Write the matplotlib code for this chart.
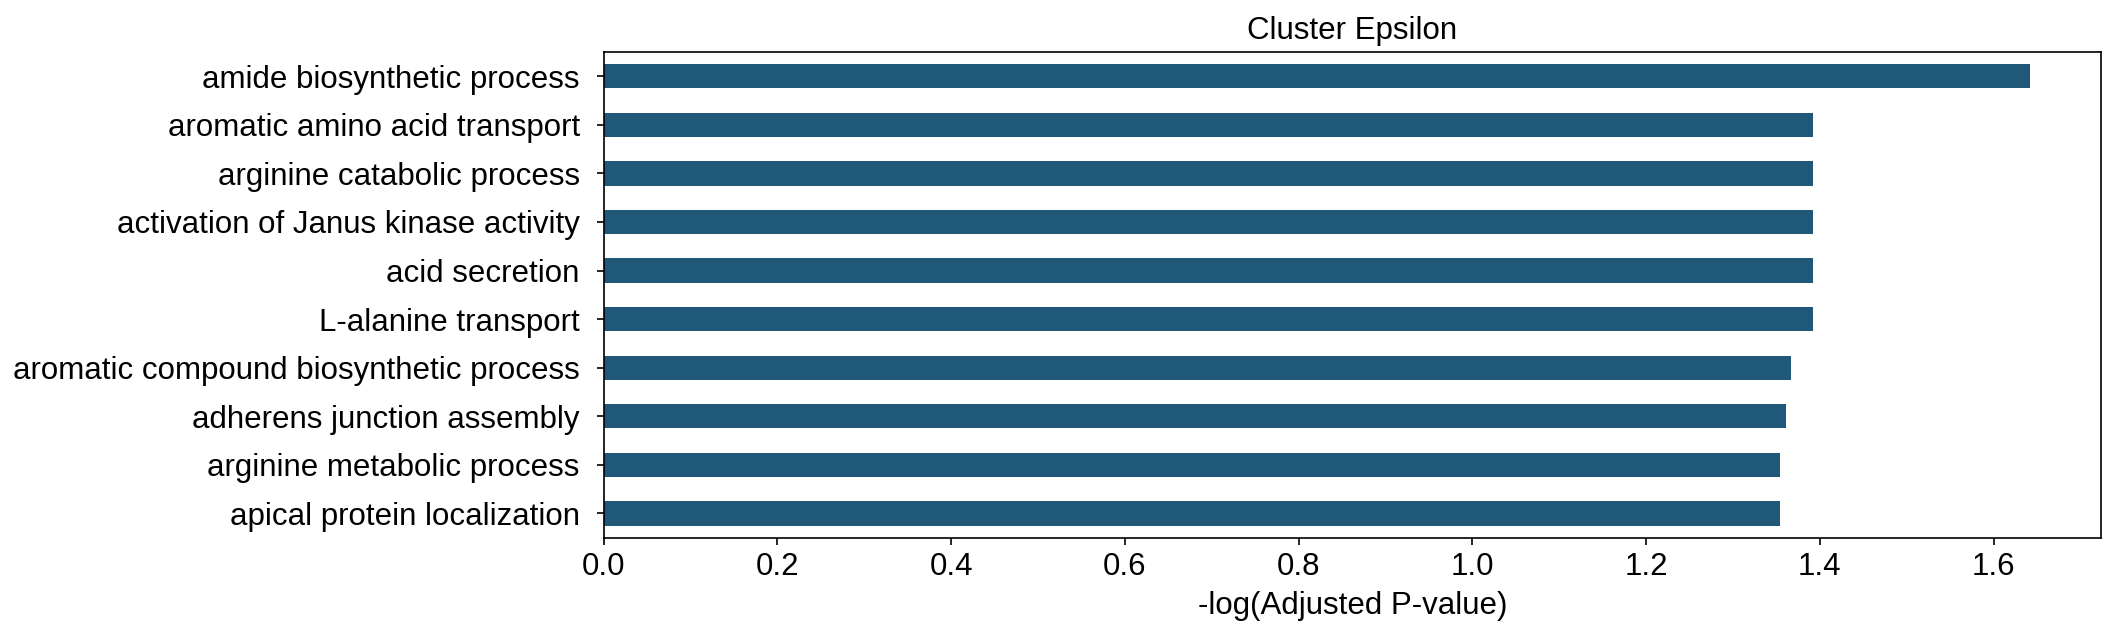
import matplotlib
matplotlib.use("Agg")
import matplotlib.pyplot as plt

# terms, listed top to bottom
terms = [
    "amide biosynthetic process",
    "aromatic amino acid transport",
    "arginine catabolic process",
    "activation of Janus kinase activity",
    "acid secretion",
    "L-alanine transport",
    "aromatic compound biosynthetic process",
    "adherens junction assembly",
    "arginine metabolic process",
    "apical protein localization",
]
neg_log_p = [1.642, 1.392, 1.392, 1.392, 1.392, 1.392, 1.367, 1.361, 1.354, 1.354]

plt.rcParams['font.family'] = ['Liberation Sans', 'DejaVu Sans']

fig, ax = plt.subplots(figsize=(2117 / 150, 637 / 150), dpi=150)
fig.subplots_adjust(left=0.2852, right=0.9926, top=0.9184, bottom=0.1559)

pos = list(range(len(terms)))[::-1]
ax.barh(pos, neg_log_p, height=0.5, color='#20587a')
ax.set_yticks(pos)
ax.set_yticklabels(terms, fontsize=15)
ax.tick_params(axis='y', pad=8.0)
ax.set_ylim(-0.5, len(terms) - 0.5)
ax.set_xlim(0, max(neg_log_p) * 1.05)
ax.tick_params(axis='x', labelsize=15)
ax.set_xlabel("-log(Adjusted P-value)", fontsize=15)
ax.set_title("Cluster Epsilon", fontsize=15)

fig.savefig("out.png", dpi=150)
